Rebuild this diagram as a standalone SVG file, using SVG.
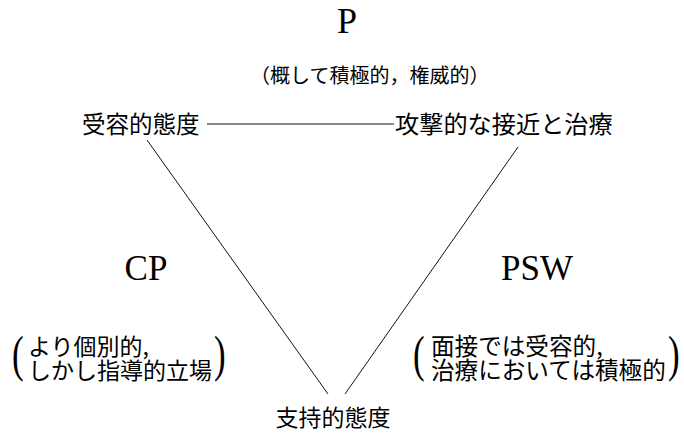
<svg xmlns="http://www.w3.org/2000/svg" width="684" height="433" viewBox="0 0 684 433">
<style>
.bg{fill:#ffffff}
.lat{font-family:"Liberation Serif","Times New Roman",serif;fill:#000}
.jp{font-family:"Noto Sans CJK JP","Noto Sans CJK SC",sans-serif;fill:#000}
.par{font-family:"Liberation Serif","Times New Roman",serif;fill:#000;font-size:50px}
.edge{stroke:#111;stroke-width:1;fill:none}
</style>
<rect class="bg" x="0" y="0" width="684" height="433"/>
<g id="connectors">
<line class="edge" x1="207" y1="124" x2="394" y2="124"/>
<line class="edge" x1="147" y1="140" x2="328" y2="394"/>
<line class="edge" x1="518" y1="147" x2="345" y2="394"/>
</g>
<g id="node-P">
<text class="lat" x="347" y="33" font-size="36" text-anchor="middle">P</text>
<text class="jp" x="250" y="83" font-size="20">（概して積極的，権威的）</text>
</g>
<g id="node-accept">
<text class="jp" x="82" y="133" font-size="23.5">受容的態度</text>
</g>
<g id="node-attack">
<text class="jp" x="395" y="133" font-size="24.2">攻撃的な接近と治療</text>
</g>
<g id="node-CP">
<text class="lat" x="146" y="280" font-size="35" text-anchor="middle">CP</text>
<text class="par" x="0" y="0" transform="translate(12,371) scale(0.7,1)">(</text>
<text class="jp" font-size="23"><tspan x="28" y="355">より個別的,</tspan><tspan x="28" y="379">しかし指導的立場</tspan></text>
<text class="par" x="0" y="0" transform="translate(214,371) scale(0.7,1)">)</text>
</g>
<g id="node-PSW">
<text class="lat" x="537" y="280" font-size="35" text-anchor="middle">PSW</text>
<text class="par" x="0" y="0" transform="translate(413,371) scale(0.7,1)">(</text>
<text class="jp" font-size="23.6"><tspan x="431" y="355">面接では受容的,</tspan><tspan x="431" y="379">治療においては積極的</tspan></text>
<text class="par" x="0" y="0" transform="translate(668,371) scale(0.7,1)">)</text>
</g>
<g id="node-support">
<text class="jp" x="333" y="426" font-size="23" text-anchor="middle">支持的態度</text>
</g>
</svg>
